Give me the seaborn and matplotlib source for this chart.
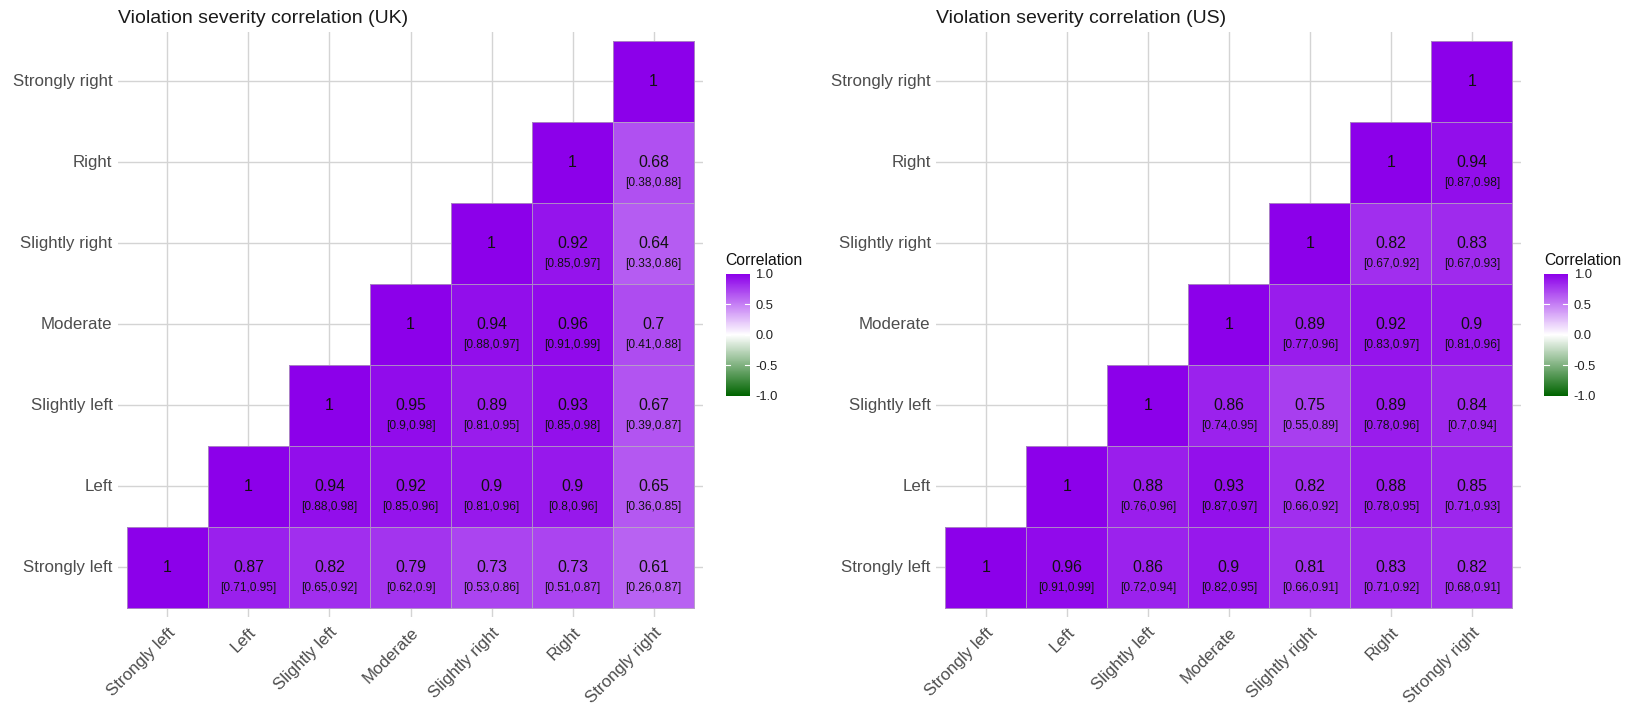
import numpy as np
import pandas as pd
import matplotlib
matplotlib.use("Agg")
import matplotlib.pyplot as plt
from matplotlib.colors import LinearSegmentedColormap, to_rgba
import seaborn as sns

plt.rcParams["font.family"] = ["Liberation Sans", "DejaVu Sans"]

categories = ["Strongly left", "Left", "Slightly left", "Moderate",
              "Slightly right", "Right", "Strongly right"]

# Row k holds correlations of category k with categories k..6
uk_r = [
    [1, 0.87, 0.82, 0.79, 0.73, 0.73, 0.61],
    [1, 0.94, 0.92, 0.9, 0.9, 0.65],
    [1, 0.95, 0.89, 0.93, 0.67],
    [1, 0.94, 0.96, 0.7],
    [1, 0.92, 0.64],
    [1, 0.68],
    [1],
]
uk_lo = [
    [None, 0.71, 0.65, 0.62, 0.53, 0.51, 0.26],
    [None, 0.88, 0.85, 0.81, 0.8, 0.36],
    [None, 0.9, 0.81, 0.85, 0.39],
    [None, 0.88, 0.91, 0.41],
    [None, 0.85, 0.33],
    [None, 0.38],
    [None],
]
uk_hi = [
    [None, 0.95, 0.92, 0.9, 0.86, 0.87, 0.87],
    [None, 0.98, 0.96, 0.96, 0.96, 0.85],
    [None, 0.98, 0.95, 0.98, 0.87],
    [None, 0.97, 0.99, 0.88],
    [None, 0.97, 0.86],
    [None, 0.88],
    [None],
]

us_r = [
    [1, 0.96, 0.86, 0.9, 0.81, 0.83, 0.82],
    [1, 0.88, 0.93, 0.82, 0.88, 0.85],
    [1, 0.86, 0.75, 0.89, 0.84],
    [1, 0.89, 0.92, 0.9],
    [1, 0.82, 0.83],
    [1, 0.94],
    [1],
]
us_lo = [
    [None, 0.91, 0.72, 0.82, 0.66, 0.71, 0.68],
    [None, 0.76, 0.87, 0.66, 0.78, 0.71],
    [None, 0.74, 0.55, 0.78, 0.7],
    [None, 0.77, 0.83, 0.81],
    [None, 0.67, 0.67],
    [None, 0.87],
    [None],
]
us_hi = [
    [None, 0.99, 0.94, 0.95, 0.91, 0.92, 0.91],
    [None, 0.96, 0.97, 0.92, 0.95, 0.93],
    [None, 0.95, 0.89, 0.96, 0.94],
    [None, 0.96, 0.97, 0.96],
    [None, 0.92, 0.93],
    [None, 0.98],
    [None],
]

cmap = LinearSegmentedColormap.from_list(
    "green_white_purple", ["#006400", "#ffffff", "#8c00ea"])

n = len(categories)
EXP = 0.11
GRID = "#d4d4d4"
EDGE = to_rgba("#b8b8b8", 0.7)


def to_frame(tri):
    """Upper-triangle rows -> square frame, top row = last category."""
    m = np.full((n, n), np.nan)
    for k, row in enumerate(tri):
        for j, v in enumerate(row):
            if v is not None:
                m[k, k + j] = v
    return pd.DataFrame(m[::-1], index=categories[::-1], columns=categories)


def draw_panel(ax, cax, title, r, lo, hi):
    df = to_frame(r)
    sns.heatmap(df, ax=ax, cmap=cmap, vmin=-1, vmax=1, center=0,
                linewidths=0.6, linecolor="#b8b8b8", cbar=True, cbar_ax=cax,
                cbar_kws={"ticks": [-1, -0.5, 0, 0.5, 1]})
    # outline only the filled cells
    mesh = ax.collections[0]
    empty = np.isnan(df.values).ravel()
    ec = np.tile(np.array(EDGE), (empty.size, 1))
    ec[empty] = (0, 0, 0, 0)
    mesh.set_edgecolors(ec)

    ax.set_xlim(-EXP, n + EXP)
    ax.set_ylim(n + EXP, -EXP)
    ax.set_axisbelow(True)
    ax.grid(True, color=GRID, linewidth=1.0)
    for s in ax.spines.values():
        s.set_visible(False)
    ax.set_xticks(np.arange(n) + 0.5)
    ax.set_yticks(np.arange(n) + 0.5)
    ax.set_xticklabels(categories, rotation=45, ha="right", va="top",
                       rotation_mode="anchor", fontsize=12.2, color="#4d4d4d")
    ax.set_yticklabels(categories[::-1], rotation=0, fontsize=12.2,
                       color="#4d4d4d")
    ax.tick_params(axis="both", length=0)
    ax.tick_params(axis="x", pad=6)
    ax.tick_params(axis="y", pad=4)
    ax.set_xlabel("")
    ax.set_ylabel("")
    ax.set_title(title, loc="left", fontsize=14, color="#1a1a1a", pad=6)

    for k in range(n):
        y = n - 1 - k + 0.5
        for j, v in enumerate(r[k]):
            x = k + j + 0.5
            ax.text(x, y, f"{v:g}", ha="center", va="center",
                    fontsize=11.4, color="#111111")
            if lo[k][j] is not None:
                ax.text(x, y + 0.26, f"[{lo[k][j]:g},{hi[k][j]:g}]",
                        ha="center", va="center", fontsize=8.6,
                        color="#111111")

    # colourbar styling
    cax.set_ylim(-1, 1)
    cb = mesh.colorbar
    cb.outline.set_visible(False)
    cax.tick_params(length=0, labelsize=9.4, pad=4, colors="#222222")
    cax.set_yticklabels(["-1.0", "-0.5", "0.0", "0.5", "1.0"])
    for t in [-0.5, 0, 0.5]:
        cax.plot([0, 0.2], [t, t], color="white", lw=0.8,
                 transform=cax.get_yaxis_transform())
        cax.plot([0.8, 1.0], [t, t], color="white", lw=0.8,
                 transform=cax.get_yaxis_transform())


fig = plt.figure(figsize=(16.31, 7.03), dpi=100)
fig.patch.set_facecolor("white")

ax_w, ax_h = 0.35868, 0.83186
ax_b = 0.12304
ax_uk = fig.add_axes([0.07235, ax_b, ax_w, ax_h])
ax_us = fig.add_axes([0.57406, ax_b, ax_w, ax_h])
cb_b, cb_w, cb_h = 0.43713, 0.0147, 0.17312
cax_uk = fig.add_axes([0.44494, cb_b, cb_w, cb_h])
cax_us = fig.add_axes([0.94666, cb_b, cb_w, cb_h])

draw_panel(ax_uk, cax_uk, "Violation severity correlation (UK)",
           uk_r, uk_lo, uk_hi)
draw_panel(ax_us, cax_us, "Violation severity correlation (US)",
           us_r, us_lo, us_hi)

for cx in (0.44494, 0.94666):
    fig.text(cx, 1 - 260.5 / 703, "Correlation", ha="left", va="center",
             fontsize=11.3, color="#111111")

fig.savefig("out.png", dpi=100, facecolor="white")
